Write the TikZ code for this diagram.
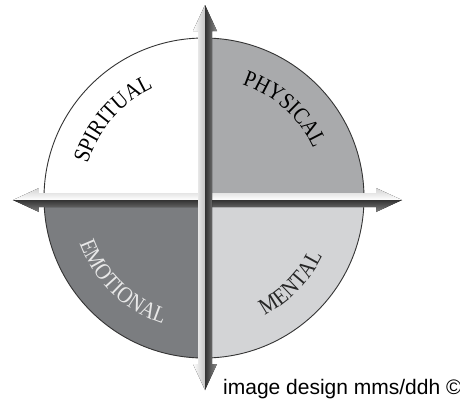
\documentclass[tikz,border=0pt]{standalone}
\usepackage{fontspec}
\setmainfont{Liberation Serif}
\newfontfamily\capfont[FakeStretch=0.88]{Liberation Serif}
\newfontfamily\notefont{Liberation Sans}
\usetikzlibrary{decorations.text}
\definecolor{physgray}{HTML}{A9AAAC}
\definecolor{emogray}{HTML}{7B7D80}
\definecolor{mentgray}{HTML}{D3D4D6}
\definecolor{emotext}{HTML}{E8E8E8}
\newcommand\lblfont{\capfont\fontsize{23bp}{23bp}\selectfont}
\begin{document}
\begin{tikzpicture}[x=1bp,y=1bp,
  arclabel/.style 2 args={decorate, decoration={text along path, text align=center, text color=#2, text={|\lblfont|#1}}},
  outline/.style={draw=black!80, line width=0.9bp}
]
\useasboundingbox (-204,-202) rectangle (256,198);
\coordinate (O) at (0,0);
% quadrants
\fill[white] (O) -- (90:160) arc[start angle=90,end angle=180,radius=160] -- cycle;
\fill[physgray] (O) -- (0:160) arc[start angle=0,end angle=90,radius=160] -- cycle;
\fill[emogray] (O) -- (180:160) arc[start angle=180,end angle=270,radius=160] -- cycle;
\fill[mentgray] (O) -- (270:160) arc[start angle=270,end angle=360,radius=160] -- cycle;
\draw[outline] (O) circle[radius=160];
% labels
\path[arclabel={SPIRITUAL}{black}] (189.2:121) arc[start angle=189.2,end angle=89.2,radius=121];
\path[arclabel={PHYSICAL}{black}] (97.9:120) arc[start angle=97.9,end angle=-2.1,radius=120];
\path[arclabel={EMOTIONAL}{emotext}] (176:132.5) arc[start angle=176,end angle=276,radius=132.5];
\path[arclabel={MENTAL}{black!85}] (265.6:132) arc[start angle=265.6,end angle=365.6,radius=132];
% horizontal double arrow
\fill[top color=gray!35, bottom color=white] (-191,-2) -- (-165,10) -- (-165,5) -- (172,5) -- (172,10) -- (198,-2) -- cycle;
\fill[top color=black!80, bottom color=black!50] (-191,-2) -- (-165,-14) -- (-165,-9) -- (172,-9) -- (172,-14) -- (198,-2) -- cycle;
% vertical double arrow
\fill[left color=white, right color=gray!45] (1,193) -- (-11,167) -- (-6,167) -- (-6,-166) -- (-11,-166) -- (1,-192) -- cycle;
\fill[left color=black!80, right color=black!45] (1,193) -- (13,167) -- (8,167) -- (8,-166) -- (13,-166) -- (1,-192) -- cycle;
% credit
\node[anchor=base west, inner sep=0, font=\notefont\fontsize{21bp}{24bp}\selectfont] (credit) at (19,-196) {image design mms/ddh ©};
\end{tikzpicture}
\end{document}
